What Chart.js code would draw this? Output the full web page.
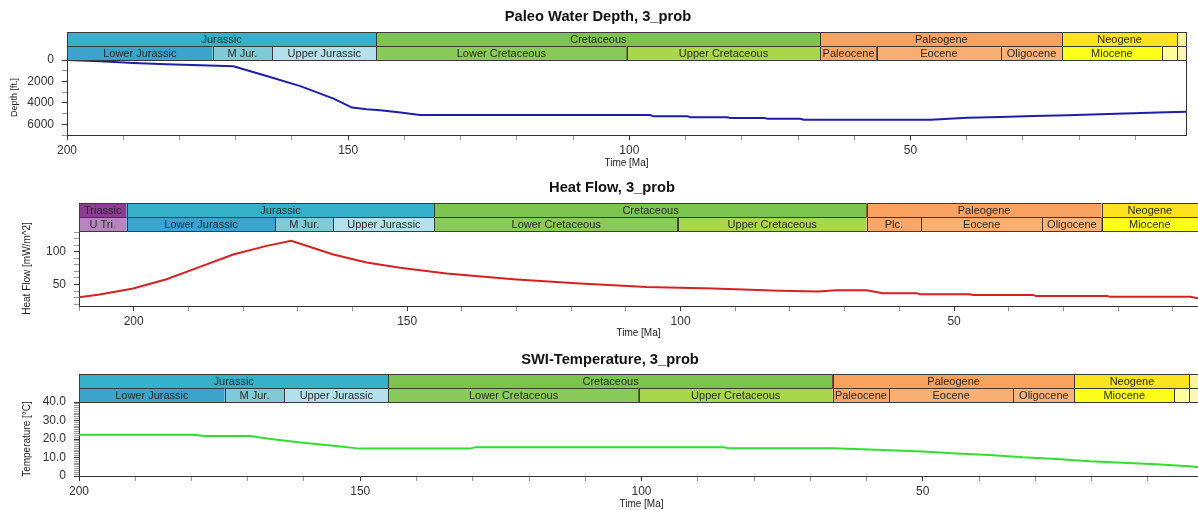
<!DOCTYPE html>
<html>
<head>
<meta charset="utf-8">
<script src="https://cdn.jsdelivr.net/npm/chart.js@4.4.1/dist/chart.umd.min.js"></script>
<style>
  html, body { margin: 0; padding: 0; background: #fff; overflow: hidden; width: 1198px; height: 510px; }
  .panel { position: absolute; left: 0; }
</style>
</head>
<body>
<canvas id="depthChart" class="panel" width="1198" height="170" style="top:0px"></canvas>
<canvas id="heatChart" class="panel" width="1198" height="170" style="top:170px"></canvas>
<canvas id="tempChart" class="panel" width="1210" height="170" style="top:340px"></canvas>
<script>
// ---- Geologic time scale (ages in Ma) ----
const periodNames  = ['Triassic', 'Jurassic', 'Cretaceous', 'Paleogene', 'Neogene', 'Quaternary'];
const periodLabels = ['Triassic', 'Jurassic', 'Cretaceous', 'Paleogene', 'Neogene', ''];
const periodStart  = [252, 201.3, 145, 66, 23.03, 2.58];
const periodEnd    = [201.3, 145, 66, 23.03, 2.58, 0];

const epochNames  = ['Upper Triassic', 'Lower Jurassic', 'Middle Jurassic', 'Upper Jurassic',
                     'Lower Cretaceous', 'Upper Cretaceous', 'Paleocene', 'Eocene', 'Oligocene',
                     'Miocene', 'Pliocene', 'Pleistocene'];
const epochLabels = ['U Tri.', 'Lower Jurassic', 'M Jur.', 'Upper Jurassic',
                     'Lower Cretaceous', 'Upper Cretaceous', 'Paleocene', 'Eocene', 'Oligocene',
                     'Miocene', '', ''];
const epochStart  = [237, 201.3, 174.1, 163.5, 145, 100.5, 66, 56, 33.9, 23.03, 5.333, 2.58];
const epochEnd    = [201.3, 174.1, 163.5, 145, 100.5, 66, 56, 33.9, 23.03, 5.333, 2.58, 0];

// ---- Paleo water depth [ft] ----
const depthAges   = [200, 194.1, 188.2, 182.3, 176.3, 170.4, 164.5, 158.5, 152.6, 149.3, 146.7, 144.3,
                     140.7, 137.2, 96.3, 95.7, 89.7, 89.1, 82.6, 82, 76, 75.4, 69.6, 69, 46.4, 39.9,
                     34, 28.1, 22, 16.3, 10.4, 4.5, 1];
const depthValues = [0, 120, 280, 400, 500, 590, 1500, 2440, 3600, 4440, 4600, 4700,
                     4910, 5135, 5135, 5260, 5260, 5350, 5350, 5420, 5420, 5480, 5480, 5570, 5570, 5380,
                     5320, 5230, 5165, 5070, 4980, 4880, 4820];

// ---- Basal heat flow [mW/m^2] ----
const heatAges   = [210, 206.2, 200.1, 194, 187.9, 181.8, 175.7, 171.2, 163.5, 157.4, 151.3, 142.8,
                    130.6, 118.4, 106.2, 94, 81.8, 74.9, 71.5, 66, 63, 56.8, 56.3, 47.2, 46.5, 35.6,
                    35, 22, 21.5, 6.8, 5.4];
const heatValues = [30.5, 34.6, 43.8, 58, 77, 96, 109.2, 116.9, 96, 83.7, 75.5, 66.9,
                    58.1, 51.5, 46.3, 43.8, 40.2, 39.2, 41.3, 41.3, 36.7, 36.7, 35.1, 35.1, 34, 34,
                    32.5, 32.5, 31, 31, 29];

// ---- Sediment-water interface temperature [°C] ----
const tempAges   = [200, 179.8, 177.6, 169.6, 166.6, 160.6, 154.8, 150, 130.5, 129.5, 85.5, 84.5,
                    65.9, 55.8, 50, 44, 38.1, 32.2, 26.2, 20.3, 14.4, 8.5, 2.6, 0];
const tempValues = [22.3, 22.3, 21.6, 21.6, 20.3, 18.1, 16.3, 14.8, 14.8, 15.6, 15.6, 15,
                    15, 13.9, 13.2, 12.1, 11.4, 10.1, 9.2, 8.0, 7.2, 6.3, 5.3, 4.5];

// ---- Labelled ticks ----
const timeTickLabels  = [200, 150, 100, 50];
const depthTickLabels = [0, 2000, 4000, 6000];
const heatTickLabels  = [50, 100];
const tempTickLabels  = [0, 10, 20, 30, 40];

// ---- Chart colours for the time scale cells ----
const scaleColors = {
  'Triassic': '#8c3d92', 'Upper Triassic': '#b985c1',
  'Jurassic': '#35b1ca', 'Lower Jurassic': '#3ca3cd', 'Middle Jurassic': '#7fcad6', 'Upper Jurassic': '#b2e1ec',
  'Cretaceous': '#7dc44f', 'Lower Cretaceous': '#89ca59', 'Upper Cretaceous': '#a9d74b',
  'Paleogene': '#f9a15f', 'Paleocene': '#f9a768', 'Eocene': '#f9ae72', 'Oligocene': '#fab47b',
  'Neogene': '#fde31f', 'Miocene': '#ffff1c', 'Pliocene': '#ffff9c',
  'Quaternary': '#f9f59c', 'Pleistocene': '#fff4b8'
};

const FONT = 'Arial, "Liberation Sans", sans-serif';
Chart.defaults.font.family = FONT;
Chart.defaults.color = '#333';

// Two-row stratigraphic header drawn above the plot area, positioned by the x scale
const timescalePlugin = {
  id: 'timescale',
  afterDraw(chart, args, opts) {
    const { ctx, chartArea } = chart;
    const x = chart.scales.x;
    const rowH = opts.rowHeight;
    const rows = [
      { names: periodNames, labels: periodLabels, start: periodStart, end: periodEnd, top: chartArea.top - 2 * rowH },
      { names: epochNames, labels: epochLabels, start: epochStart, end: epochEnd, top: chartArea.top - rowH }
    ];
    const visLeft = chartArea.left;
    const visRight = Math.min(chartArea.right, chart.width);
    ctx.save();
    ctx.font = '11px ' + FONT;
    ctx.textAlign = 'center';
    ctx.textBaseline = 'middle';
    rows.forEach(row => {
      row.names.forEach((name, i) => {
        let a = x.getPixelForValue(row.start[i]);
        let b = x.getPixelForValue(row.end[i]);
        let l = Math.max(Math.min(a, b), chartArea.left);
        let r = Math.min(Math.max(a, b), chartArea.right);
        if (r <= l) return;
        ctx.fillStyle = scaleColors[name];
        ctx.fillRect(l, row.top, r - l, rowH);
        ctx.strokeStyle = '#3a3a3a';
        ctx.lineWidth = 1;
        ctx.strokeRect(Math.round(l) + 0.5, Math.round(row.top) + 0.5, Math.round(r - l), rowH);
        let text = (opts.labelOverrides && opts.labelOverrides[name]) || row.labels[i];
        if (!text) return;
        const cl = Math.max(l, visLeft), cr = Math.min(r, visRight);
        ctx.fillStyle = '#2a2a2a';
        ctx.fillText(text, (cl + cr) / 2, row.top + rowH / 2 + 1);
      });
    });
    if (opts.frameRight) {
      ctx.strokeStyle = '#333';
      ctx.beginPath();
      ctx.moveTo(Math.round(chartArea.right) + 0.5, chartArea.top);
      ctx.lineTo(Math.round(chartArea.right) + 0.5, chartArea.bottom);
      ctx.stroke();
    }
    // panel title
    ctx.font = 'bold 14.7px ' + FONT;
    ctx.fillStyle = '#111';
    ctx.fillText(opts.title, opts.titleX, opts.titleY);
    ctx.restore();
  }
};

function makeTimeAxis(min, max, height, titlePad) {
  return {
    type: 'linear', reverse: true, min: min, max: max,
    afterFit: s => { s.height = height; },
    border: { display: true, color: '#333', width: 1 },
    grid: {
      drawOnChartArea: false, drawTicks: true, tickLength: 5,
      tickColor: c => (c.tick && timeTickLabels.includes(c.tick.value)) ? '#333' : '#999'
    },
    ticks: {
      stepSize: 10, autoSkip: false, includeBounds: false, maxRotation: 0, padding: 3,
      font: { size: 12 }, color: '#333',
      callback: v => timeTickLabels.includes(v) ? String(v) : ''
    },
    title: { display: true, text: 'Time [Ma]', font: { size: 10 }, color: '#222', padding: { top: 0, bottom: titlePad } }
  };
}

function makeValueAxis(cfg) {
  return {
    type: 'linear', min: cfg.min, max: cfg.max, reverse: !!cfg.reverse,
    afterFit: s => { s.width = cfg.width; },
    border: { display: true, color: '#333', width: 1 },
    grid: {
      drawOnChartArea: false, drawTicks: true, tickLength: 5,
      tickColor: c => (c.tick && cfg.labels.includes(c.tick.value)) ? '#333' : '#999'
    },
    ticks: {
      stepSize: cfg.step, autoSkip: false, includeBounds: false, padding: 8,
      font: { size: 12 }, color: '#333',
      callback: cfg.format
    },
    title: { display: true, text: cfg.title, font: { size: cfg.titleSize || 10 }, color: '#222', padding: { top: cfg.titlePad, bottom: 0 } }
  };
}

function pointsOf(ages, values) {
  return ages.map((a, i) => ({ x: a, y: values[i] }));
}

function makeChart(id, o) {
  return new Chart(document.getElementById(id), {
    type: 'line',
    data: {
      datasets: [{
        data: pointsOf(o.ages, o.values),
        borderColor: o.color, borderWidth: 2, pointRadius: 0, tension: 0, fill: false
      }]
    },
    options: {
      responsive: false, animation: false, devicePixelRatio: 1,
      layout: { padding: o.padding },
      plugins: {
        legend: { display: false }, tooltip: { enabled: false },
        timescale: o.timescale
      },
      scales: { x: o.x, y: o.y }
    },
    plugins: [timescalePlugin]
  });
}

makeChart('depthChart', {
  ages: depthAges, values: depthValues, color: '#1e1eaa',
  padding: { left: 0, right: 12, top: 60, bottom: 0 },
  timescale: { rowHeight: 14, frameRight: true, title: 'Paleo Water Depth, 3_prob', titleX: 598, titleY: 17 },
  x: makeTimeAxis(1, 200, 35, 1),
  y: makeValueAxis({
    min: 0, max: 7000, reverse: true, step: 1000, width: 67, labels: depthTickLabels,
    format: v => depthTickLabels.includes(v) ? String(v) : '',
    title: 'Depth [ft.]', titlePad: 9, titleSize: 9
  })
});

makeChart('heatChart', {
  ages: heatAges, values: heatValues, color: '#d42222',
  padding: { left: 0, right: 0, top: 61, bottom: 0 },
  timescale: { rowHeight: 14, frameRight: false, title: 'Heat Flow, 3_prob', titleX: 612, titleY: 18,
               labelOverrides: { 'Paleocene': 'Plc.' } },
  x: makeTimeAxis(5.4, 210, 34, 1),
  y: makeValueAxis({
    min: 17, max: 132, step: 10, width: 79, labels: heatTickLabels,
    format: v => heatTickLabels.includes(v) ? String(v) : '',
    title: 'Heat Flow [mW/m^2]', titlePad: 21
  })
});

makeChart('tempChart', {
  ages: tempAges, values: tempValues, color: '#33dd33',
  padding: { left: 0, right: 6, top: 62, bottom: 0 },
  timescale: { rowHeight: 14, frameRight: false, title: 'SWI-Temperature, 3_prob', titleX: 610, titleY: 20 },
  x: makeTimeAxis(0, 200, 34, 0),
  y: makeValueAxis({
    min: 0, max: 40, step: 1, width: 79, labels: tempTickLabels,
    format: v => tempTickLabels.includes(v) ? (v === 0 ? '0' : v.toFixed(1)) : '',
    title: 'Temperature [°C]', titlePad: 21
  })
});
</script>
</body>
</html>
